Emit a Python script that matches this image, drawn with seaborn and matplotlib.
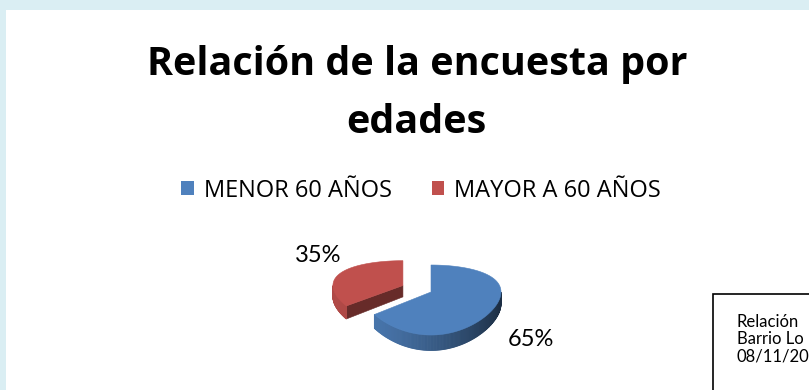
import numpy as np
import matplotlib
matplotlib.use("Agg")
import matplotlib.pyplot as plt
import seaborn as sns
from matplotlib.patches import Polygon, Rectangle, Patch
from matplotlib.colors import to_rgb

# ---- data -------------------------------------------------------------
categories = ["MENOR 60 AÑOS", "MAYOR A 60 AÑOS"]
shares = [65, 35]                      # percent of respondents
slice_colors = ["#4F81BD", "#C0504D"]
exploded = [False, True]
title_lines = ["Relación de la encuesta por", "edades"]
note_lines = ["Relación", "Barrio Lo", "08/11/20"]

# ---- style ------------------------------------------------------------
sns.set_theme(style="white")
plt.rcParams["font.family"] = ["Open Sans", "DejaVu Sans"]
plt.rcParams["text.color"] = "black"

W, H = 809, 390
fig = plt.figure(figsize=(W / 100, H / 100), dpi=100, facecolor="#DAEEF3")
renderer = fig.canvas.get_renderer()

# pixel-space layer for the panel, title and note box
bg = fig.add_axes([0, 0, 1, 1])
bg.set_xlim(0, W)
bg.set_ylim(H, 0)
bg.axis("off")
bg.add_patch(Rectangle((6, 10), W, H, facecolor="white", edgecolor="none"))

t1 = bg.text(417, 75, title_lines[0], ha="center", va="baseline",
             fontsize=28, fontweight="bold", color="black")
# size the title so that its first line spans 540 px
scale = 540 / t1.get_window_extent(renderer).width
t1.set_fontsize(28 * scale)
bg.text(416, 133, title_lines[1], ha="center", va="baseline",
        fontsize=28 * scale, fontweight="bold", color="black")

# note box at the lower right corner
bg.add_patch(Rectangle((713.5, 293.5), 200, 200, facecolor="white",
                       edgecolor="black", linewidth=1.2))
for i, line in enumerate(note_lines):
    bg.text(737, 327 + 17 * i, line, ha="left", va="baseline",
            fontsize=12, color="black", family=["Lato", "DejaVu Sans"])

# ---- legend -----------------------------------------------------------
handles = [Patch(facecolor=c, edgecolor="none", label=l)
           for c, l in zip(slice_colors, categories)]
fig.legend(handles=handles, loc="center", bbox_to_anchor=(421 / W, 1 - 190.5 / H),
           ncol=2, frameon=False, fontsize=17, labelcolor="black",
           handlelength=0.53, handleheight=0.53, handletextpad=0.42,
           columnspacing=1.7, borderpad=0, borderaxespad=0)

# ---- 3-D pie ----------------------------------------------------------
CX, CY, R = 431, 292, 70            # apex pixel position and radius in px
pie = fig.add_axes([280 / W, 1 - 380 / H, 300 / W, 150 / H])
pie.axis("off")

K = 0.474      # vertical squash of the disc
P = 0.229      # perspective strength (far side smaller)
TH = 0.17      # thickness of the disc
EXPLODE = 0.45


def proj(x, y, z=0.0):
    s = 1.0 / (1.0 + P * y)
    return x, (K * y - TH * z) * s


def shade(rgb, f):
    return tuple(min(1.0, max(0.0, c * f)) for c in rgb)


def light(theta_deg):
    return max(0.36, 0.62 + 0.3 * np.cos(np.radians(theta_deg - 200)))


# slices run clockwise from 12 o'clock
fracs = np.array(shares, dtype=float) / sum(shares)
ends = 90 - 360 * np.cumsum(fracs)
starts = np.concatenate([[90.0], ends[:-1]])

slices = []
for frac, a_start, a_end, col, exp, lab in zip(fracs, starts, ends,
                                                slice_colors, exploded, shares):
    a0, a1 = a_end, a_start            # increasing-angle span
    mid = np.radians((a0 + a1) / 2)
    off = EXPLODE if exp else 0.0
    ox, oy = off * np.cos(mid), off * np.sin(mid)
    slices.append(dict(a0=a0, a1=a1, mid=mid, ox=ox, oy=oy,
                       rgb=to_rgb(col), label=lab))

# paint far slices first
slices.sort(key=lambda d: -(d["oy"] + np.sin(d["mid"])))

for sl in slices:
    a0, a1, ox, oy, rgb = sl["a0"], sl["a1"], sl["ox"], sl["oy"], sl["rgb"]
    # cut faces
    for ang, nrm in ((a0, a0 - 90), (a1, a1 + 90)):
        if np.sin(np.radians(nrm)) < -1e-6:
            t = np.radians(ang)
            px, py = ox + np.cos(t), oy + np.sin(t)
            quad = [proj(ox, oy, 0), proj(px, py, 0), proj(px, py, 1), proj(ox, oy, 1)]
            c = shade(rgb, light(nrm))
            pie.add_patch(Polygon(quad, closed=True, facecolor=c, edgecolor=c,
                                  linewidth=0.4))
    # outer rim (front half only)
    ts = np.linspace(a0, a1, 240)
    for t0, t1_ in zip(ts[:-1], ts[1:]):
        tm = (t0 + t1_) / 2
        if np.sin(np.radians(tm)) >= 0:
            continue
        r0, r1 = np.radians(t0), np.radians(t1_)
        p0 = (ox + np.cos(r0), oy + np.sin(r0))
        p1 = (ox + np.cos(r1), oy + np.sin(r1))
        quad = [proj(*p0, 0), proj(*p1, 0), proj(*p1, 1), proj(*p0, 1)]
        c = shade(rgb, light(tm))
        pie.add_patch(Polygon(quad, closed=True, facecolor=c, edgecolor=c,
                              linewidth=0.6))
    # top face
    arc = np.radians(np.linspace(a0, a1, 200))
    top = [proj(ox, oy, 0)] + [proj(ox + np.cos(t), oy + np.sin(t), 0) for t in arc]
    pie.add_patch(Polygon(top, closed=True, facecolor=rgb, edgecolor=rgb,
                          linewidth=0.4))

# percentage labels
label_offsets = {65: (38, -31), 35: (-22, 18)}   # screen offset in px
for sl in slices:
    mx = sl["ox"] + np.cos(sl["mid"])
    my = sl["oy"] + np.sin(sl["mid"])
    dx, dy = label_offsets[sl["label"]]
    pie.annotate(f"{sl['label']}%", xy=proj(mx, my, 0),
                 xytext=(dx * 0.72, dy * 0.72), textcoords="offset points",
                 ha="center", va="center", fontsize=17, color="black",
                 family=["Lato", "DejaVu Sans"])

pie.set_xlim((280 - CX) / R, (580 - CX) / R)
pie.set_ylim(-(380 - CY) / R, (CY - 230) / R)
pie.set_aspect("auto")

fig.savefig("out.png", dpi=100, facecolor=fig.get_facecolor())
